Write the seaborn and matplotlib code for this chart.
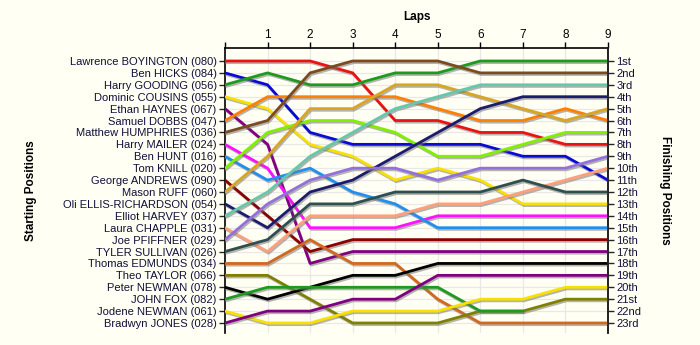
import numpy as np
import pandas as pd
import matplotlib
matplotlib.use("Agg")
import matplotlib.pyplot as plt
import matplotlib.patheffects as pe
import seaborn as sns

laps = [0, 1, 2, 3, 4, 5, 6, 7, 8, 9]

drivers = [
    "Lawrence BOYINGTON (080)", "Ben HICKS (084)", "Harry GOODING (056)",
    "Dominic COUSINS (055)", "Ethan HAYNES (067)", "Samuel DOBBS (047)",
    "Matthew HUMPHRIES (036)", "Harry MAILER (024)", "Ben HUNT (016)",
    "Tom KNILL (020)", "George ANDREWS (090)", "Mason RUFF (060)",
    "Oli ELLIS-RICHARDSON (054)", "Elliot HARVEY (037)", "Laura CHAPPLE (031)",
    "Joe PFIFFNER (029)", "TYLER SULLIVAN (026)", "Thomas EDMUNDS (034)",
    "Theo TAYLOR (066)", "Peter NEWMAN (078)", "JOHN FOX (082)",
    "Jodene NEWMAN (061)", "Bradwyn JONES (028)",
]

nan = np.nan
positions = [
    [1, 1, 1, 2, 6, 6, 7, 7, 8, 8],
    [2, 3, 7, 8, 8, 8, 8, 9, 9, 11],
    [3, 2, 3, 3, 2, 2, 1, 1, 1, 1],
    [4, 5, 8, 9, 11, 10, 11, 13, 13, 13],
    [5, 8, 18, 17, 17, 17, 17, 17, 17, 17],
    [6, 4, 4, 4, 4, 5, 6, 6, 5, 6],
    [7, 6, 2, 1, 1, 1, 2, 2, 2, 2],
    [8, 10, 15, 15, 15, 14, 14, 14, 14, 14],
    [9, 11, 10, 12, 13, 15, 15, 15, 15, 15],
    [10, 7, 6, 6, 7, 9, 9, 8, 7, 7],
    [11, 14, 17, 16, 16, 16, 16, 16, 16, 16],
    [12, 9, 5, 5, 3, 3, 4, 5, 6, 5],
    [13, 15, 12, 11, 9, 7, 5, 4, 4, 4],
    [14, 12, 9, 7, 5, 4, 3, 3, 3, 3],
    [15, 17, 14, 14, 14, 13, 13, 12, 11, 10],
    [16, 13, 11, 10, 10, 11, 10, 10, 10, 9],
    [17, 16, 13, 13, 12, 12, 12, 11, 12, 12],
    [18, 18, 16, 18, 18, 21, 23, 23, 23, 23],
    [19, 19, 21, 23, 23, 23, 22, 22, 21, 21],
    [20, 21, 20, 19, 19, 18, 18, 18, 18, 18],
    [21, 20, 20, 20, 20, 20, 22, 22, nan, nan],
    [22, 23, 23, 22, 22, 22, 21, 21, 20, 20],
    [23, 22, 22, 21, 21, 19, 19, 19, 19, 19],
]

colors = [
    "#ee1111", "#0a0ad8", "#1e9a1e", "#f8e000", "#800080", "#ff8000",
    "#7b4a1e", "#ff10ff", "#2090f0", "#80f000", "#8b0000", "#daa520",
    "#1c1c6e", "#66c8aa", "#ffa07a", "#9370db", "#2f4f4f", "#d2691e",
    "#808000", "#000000", "#1e9a1e", "#f8e000", "#800080",
]

finish_labels = ["1st", "2nd", "3rd"] + [f"{i}th" for i in range(4, 21)] + ["21st", "22nd", "23rd"]
lap_tick_labels = ["", "1", "2", "3", "4", "5", "6", "7", "8", "9"]

rows = []
for d, pos in zip(drivers, positions):
    for lap, p in zip(laps, pos):
        rows.append({"driver": d, "lap": lap, "pos": p})
df = pd.DataFrame(rows)

sns.set_style("white")
plt.rcParams["font.family"] = ["Liberation Sans", "DejaVu Sans"]

bg = "#fffff4"
txt = "#10103a"
fig = plt.figure(figsize=(7.0, 3.45), dpi=100, facecolor=bg)
ax = fig.add_axes([225 / 700, 1 - 333 / 345, 383 / 700, 285 / 345])
ax.set_facecolor(bg)

ax.set_xlim(0, 9)
ax.set_ylim(23.84, -0.09)
for x in laps[1:-1]:
    ax.axvline(x, color="#e8e8e8", lw=0.9, zorder=0)
for y in range(1, 24):
    ax.axhline(y, color="#e8e8e8", lw=0.9, zorder=0)

sns.lineplot(data=df, x="lap", y="pos", hue="driver", hue_order=drivers,
             palette=dict(zip(drivers, colors)), estimator=None, sort=False,
             legend=False, linewidth=2.0, ax=ax, zorder=3)
for ln in ax.lines:
    if ln.get_zorder() >= 3:
        ln.set_path_effects([pe.SimpleLineShadow(offset=(0.8, -1.2), shadow_color="#777777", alpha=0.55),
                             pe.Normal()])

ax.spines["bottom"].set_visible(False)
for s in ["top", "left", "right"]:
    ax.spines[s].set_color("black")
    ax.spines[s].set_linewidth(1.2)

ax.xaxis.tick_top()
ax.xaxis.set_label_position("top")
ax.set_xticks(laps)
ax.set_xticklabels(lap_tick_labels)
ax.set_xlabel("Laps", fontsize=8.5, fontweight="bold", color="black")
ax.xaxis.set_label_coords(0.5, 1.097)
ax.tick_params(axis="x", which="both", top=True, bottom=False, length=4, width=1,
               labelsize=8.5, colors="black", pad=1)

ax.set_yticks(list(range(1, 24)))
ax.set_yticklabels(drivers)
ax.tick_params(axis="y", left=True, length=4, width=1, labelsize=8, labelcolor=txt, pad=2)
ax.set_ylabel("Starting Positions", fontsize=8.5, fontweight="bold", color="black")
ax.yaxis.set_label_coords(-0.49, 0.5)

ax2 = ax.twinx()
ax2.set_ylim(ax.get_ylim())
ax2.set_yticks(list(range(1, 24)))
ax2.set_yticklabels(finish_labels)
ax2.tick_params(axis="y", right=True, length=4, width=1, labelsize=8, labelcolor=txt, pad=2)
for s in ["top", "bottom", "left"]:
    ax2.spines[s].set_visible(False)
ax2.spines["right"].set_linewidth(1.2)
ax2.set_ylabel("Finishing Positions", fontsize=8.5, fontweight="bold", rotation=270, color="black")
ax2.yaxis.set_label_coords(1.165, 0.5)

fig.savefig("out.png", dpi=100, facecolor=bg)
